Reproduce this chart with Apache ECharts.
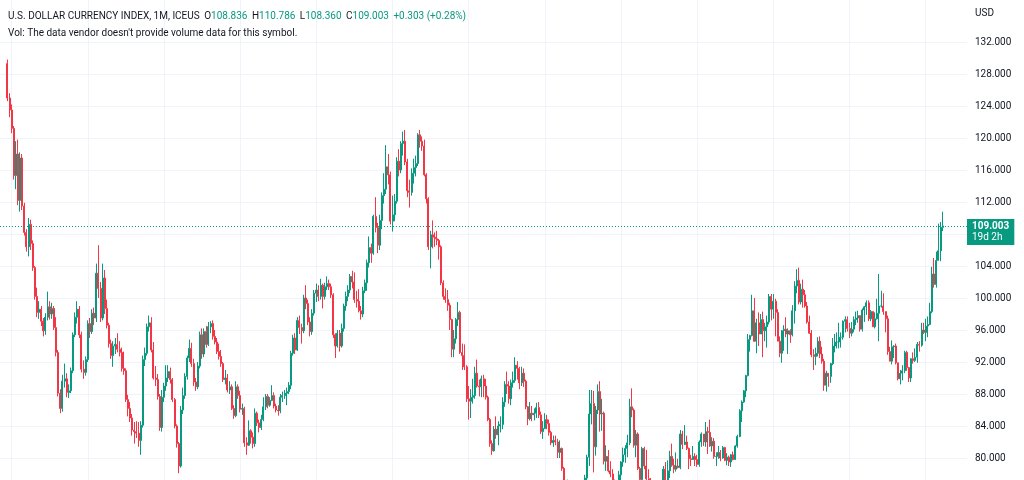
<!DOCTYPE html>
<html><head><meta charset="utf-8">
<script src="https://cdn.jsdelivr.net/npm/echarts@6/dist/echarts.min.js"></script>
<style>html,body{margin:0;padding:0;background:#fff}#c{width:1024px;height:480px}</style>
</head><body><div id="c"></div>
<script>
// ---- DATA: U.S. Dollar Currency Index, monthly, Nov 1985 .. Sep 2022 ----
const firstCategory = [1985, 8];      // first month on the time axis (Aug 1985)
const categoryCount = 457;            // months shown on the axis (to Aug 2023)
const firstCandle = '1985-11';
const firstOpen = 129.3;
const closes = [
  125.0, 123.5,
  121.2,115.3,118.0,112.2,117.5,111.5,108.2,106.4,109.2,106.8,103.8,100.2, // 1986
  98.2,98.6,97.1,95.9,97.6,98.9,98.0,98.7,96.3,93.2,88.1,86.2,           // 1987
  89.6,89.9,88.2,88.4,90.9,95.4,97.6,98.6,95.4,91.1,90.7,92.3,           // 1988
  96.8,95.8,98.1,97.5,103.1,101.2,97.5,102.5,98.7,96.6,94.3,92.8,        // 1989
  94.0,94.2,93.6,93.2,91.2,90.9,87.3,86.2,85.0,83.5,83.3,83.1,           // 1990
  82.2,84.1,92.3,93.1,96.4,96.9,93.5,90.0,89.8,87.7,83.8,87.6,           // 1991
  89.0,90.0,90.8,89.8,87.3,84.0,81.8,79.0,86.0,87.8,90.2,92.5,           // 1992
  93.7,91.8,89.5,88.9,91.5,95.4,93.0,95.8,94.2,96.4,96.8,95.2,           // 1993
  94.5,93.3,92.7,91.8,89.8,90.0,88.5,88.9,86.2,85.3,88.9,87.8,           // 1994
  86.1,86.2,81.9,81.6,83.4,82.6,81.8,85.6,84.4,83.8,84.8,86.4,           // 1995
  87.7,86.6,87.2,87.8,86.5,86.0,85.9,87.6,87.8,88.1,88.3,89.1,           // 1996
  93.1,95.0,93.5,97.2,96.3,95.9,100.0,99.3,97.0,95.8,98.1,100.6,         // 1997
  101.0,100.2,101.6,100.2,101.4,101.8,101.4,100.4,95.4,94.0,95.6,94.0,   // 1998
  96.2,99.0,100.2,101.0,102.7,102.0,99.8,99.6,98.4,98.0,100.9,101.9,     // 1999
  104.4,106.3,105.6,110.2,108.8,106.6,109.7,112.8,113.6,116.4,115.4,109.6, // 2000
  110.4,112.1,117.1,116.0,119.3,119.6,117.0,113.4,113.2,115.6,116.3,116.8, // 2001
  120.4,119.6,119.0,115.4,112.4,106.4,107.9,107.6,107.4,107.2,106.4,101.9, // 2002
  100.2,99.8,99.1,97.3,93.6,94.9,97.3,98.2,93.2,92.8,91.4,87.4,          // 2003
  87.1,87.6,87.8,90.6,89.0,88.9,89.9,89.0,87.6,84.8,81.8,80.9,           // 2004
  83.6,82.9,84.0,84.2,87.0,89.2,89.0,87.4,89.4,89.7,91.6,91.2,           // 2005
  89.4,90.6,89.6,86.4,84.9,85.6,85.4,85.6,86.3,85.4,83.3,83.7,           // 2006
  84.8,84.3,83.2,81.9,82.2,82.0,80.7,81.2,78.7,76.6,75.4,76.7,           // 2007
  75.1,73.6,71.8,73.5,72.6,72.5,73.1,77.5,80.1,85.5,86.8,81.4,           // 2008
  86.0,88.3,85.5,85.6,79.6,80.2,78.4,78.0,76.6,76.3,74.6,77.9,           // 2009
  79.5,80.4,81.2,81.9,86.4,86.0,81.6,83.0,78.7,77.3,81.2,79.0,           // 2010
  77.4,76.8,75.9,73.0,74.6,74.3,74.0,74.2,78.6,76.2,78.4,80.2,           // 2011
  79.1,78.6,79.0,78.8,83.0,81.7,82.0,81.2,79.9,79.8,80.2,79.8,           // 2012
  79.2,82.0,83.0,82.0,83.3,83.2,81.5,82.1,80.2,80.2,80.7,80.0,           // 2013
  81.3,79.7,80.1,79.5,80.4,79.8,81.5,82.7,85.9,87.0,88.4,90.3,           // 2014
  94.8,95.3,98.4,94.6,96.9,95.5,97.3,95.9,96.4,97.0,100.2,98.6,          // 2015
  99.6,98.2,94.6,93.1,95.9,96.1,95.5,95.9,95.4,98.4,101.5,102.2,         // 2016
  99.5,101.1,100.4,99.0,97.0,95.6,92.9,92.7,93.1,94.6,93.0,92.1,         // 2017
  89.1,90.6,90.2,91.8,94.0,94.5,94.5,95.1,95.1,97.1,97.3,96.2,           // 2018
  95.6,96.1,97.3,97.5,97.8,96.1,98.5,98.9,99.4,97.4,98.3,96.4,           // 2019
  97.4,98.1,99.0,99.0,98.3,97.4,93.3,92.1,93.9,94.0,91.9,89.9,           // 2020
  90.6,90.9,93.2,91.3,90.0,92.4,92.2,92.6,94.2,94.1,96.0,95.7,           // 2021
  96.5,96.7,98.3,103.0,101.7,104.7,105.9,108.836,109.003                 // 2022
];
const highs = [
  129.8, 125.6,
  124.2,121.5,119.6,119.8,118.2,118.0,111.9,108.6,110.0,109.8,107.2,104.0,
  101.3,99.6,99.0,97.5,98.1,100.8,99.6,99.4,99.0,97.6,93.5,88.6,
  90.4,91.8,90.6,89.2,91.3,95.7,98.2,99.6,99.0,95.8,92.2,92.7,
  97.2,97.5,98.6,98.8,104.3,106.6,102.0,104.3,103.5,99.8,96.9,94.8,
  94.6,95.0,95.6,94.6,93.8,93.3,91.2,87.9,87.0,85.5,84.5,84.6,
  84.5,84.6,92.8,93.8,96.8,97.8,97.6,94.5,91.5,90.5,88.0,88.5,
  89.4,91.6,91.6,91.3,90.0,87.5,84.2,82.0,86.5,88.8,90.6,92.8,
  94.8,94.4,92.4,90.0,92.0,95.8,96.2,96.2,96.5,97.0,97.1,97.2,
  96.0,95.0,94.3,93.5,92.0,91.0,90.5,89.6,89.2,86.6,89.6,89.2,
  88.4,86.8,86.4,82.6,84.7,83.6,83.2,86.2,85.8,84.8,85.4,87.6,
  88.0,88.0,87.6,89.1,88.2,86.8,86.6,88.0,88.3,88.5,88.8,89.5,
  93.4,95.4,95.6,97.6,97.8,96.8,100.4,101.6,99.8,97.6,98.6,101.0,
  101.8,101.6,102.4,101.8,101.9,102.7,102.3,101.8,100.6,95.6,96.0,96.0,
  96.8,99.3,100.8,101.6,103.0,103.4,103.2,100.9,101.1,99.0,101.4,102.3,
  104.8,107.7,106.8,110.4,112.6,109.4,110.4,113.2,115.6,119.1,118.0,115.8,
  112.8,113.0,117.6,118.6,119.6,120.8,121.0,117.4,114.8,116.2,117.4,117.8,
  120.6,121.0,120.2,119.8,115.6,112.6,108.4,109.7,108.2,108.4,107.4,106.6,
  102.2,101.2,101.0,99.4,97.4,96.0,97.5,99.5,98.4,94.3,94.2,91.6,
  89.0,88.6,89.9,91.4,92.3,89.8,90.3,90.4,89.9,87.8,85.0,82.2,
  84.0,85.2,84.6,85.2,87.6,89.6,90.8,89.6,89.8,90.8,92.6,92.1,
  91.4,91.4,91.2,89.8,86.5,87.0,86.5,86.2,86.9,87.0,85.8,84.6,
  85.6,85.4,84.8,83.4,82.8,82.8,82.4,82.2,81.3,78.9,77.2,77.3,
  77.0,76.5,74.1,73.8,74.0,73.8,73.5,77.9,80.4,88.5,88.5,88.4,
  86.5,89.2,89.6,87.4,85.8,81.6,81.0,79.6,78.6,77.3,76.4,78.4,
  79.6,81.3,81.6,82.9,87.4,88.7,86.2,83.5,83.2,78.9,81.4,81.4,
  81.0,78.6,77.5,76.1,76.4,76.3,75.4,75.0,79.0,79.5,79.7,80.9,
  81.8,79.9,80.7,79.9,83.5,83.4,84.1,82.8,81.3,80.4,81.5,80.6,
  80.4,82.2,83.2,83.0,84.5,83.9,84.8,82.6,82.5,80.7,81.5,81.0,
  81.5,81.4,80.6,80.3,80.5,80.8,81.6,82.9,86.1,87.2,88.5,90.4,
  95.5,95.4,100.4,100.0,97.4,98.2,98.0,98.3,96.9,97.8,100.5,100.5,
  100.5,99.9,98.6,95.2,96.0,96.6,97.6,96.2,96.1,99.1,102.1,103.6,
  103.8,101.8,102.3,101.0,99.5,97.8,96.0,93.6,93.8,95.1,95.2,93.9,
  92.4,90.9,90.6,91.9,95.0,95.5,95.7,96.9,95.7,97.2,97.7,97.7,
  96.9,97.0,97.7,98.3,98.4,97.8,98.7,99.0,99.7,99.7,98.5,98.3,
  98.2,99.9,103.0,100.9,100.6,98.0,97.8,93.9,94.7,94.1,94.3,91.8,
  91.0,91.6,93.4,93.4,91.4,92.5,93.2,93.7,94.5,94.6,96.9,96.9,
  97.4,97.7,99.4,103.9,105.0,105.8,109.3,109.5,110.786
];
const lows = [
  124.6, 122.6,
  120.6,114.8,113.6,111.6,110.8,111.0,107.8,105.8,105.2,106.0,103.4,99.8,
  97.6,97.4,96.5,95.2,95.4,97.2,97.3,97.4,96.0,92.7,87.7,85.6,
  85.8,88.8,87.6,87.5,88.1,90.6,95.1,96.8,95.0,90.7,89.9,90.3,
  92.0,95.0,95.5,96.6,97.0,100.0,97.0,97.2,98.0,96.2,93.8,92.4,
  91.4,93.0,93.2,92.7,90.8,90.4,87.0,85.2,84.5,82.8,81.8,82.5,
  81.4,80.4,83.8,91.5,92.8,95.8,93.2,89.8,89.0,87.3,83.4,83.3,
  87.0,88.4,89.5,89.3,87.0,83.7,81.3,78.1,78.8,85.5,87.4,89.8,
  92.0,91.4,89.0,88.4,88.6,91.2,92.4,92.6,93.8,94.0,95.6,94.8,
  94.2,93.0,92.3,91.4,89.5,89.2,88.2,88.0,86.0,84.9,85.1,87.4,
  85.7,85.4,81.4,80.4,81.5,81.8,81.2,81.4,84.0,83.2,83.5,84.6,
  86.0,86.2,86.4,87.1,86.2,85.7,85.3,85.6,87.0,87.4,86.6,88.0,
  88.6,92.8,93.0,93.4,95.5,94.3,95.6,98.6,96.6,95.2,95.4,97.8,
  99.5,99.6,99.8,98.7,99.8,101.0,101.0,100.0,95.0,92.5,93.8,93.3,
  93.8,95.8,98.4,99.6,100.6,101.2,99.4,98.8,98.2,97.3,97.6,100.6,
  100.9,103.8,104.4,105.4,108.2,105.6,106.0,108.6,111.8,113.0,114.2,109.2,
  108.3,109.6,111.8,115.2,115.6,117.8,116.6,112.6,111.3,112.8,114.3,115.2,
  116.5,118.8,118.4,115.2,111.8,106.0,103.7,106.2,106.4,106.6,104.8,101.6,
  99.8,99.4,98.4,96.0,92.6,92.6,94.3,96.5,93.0,91.0,91.0,87.0,
  84.8,85.0,86.8,87.4,88.8,87.7,87.6,87.6,87.3,84.6,81.4,80.4,
  80.8,82.4,81.6,83.2,83.6,86.4,88.0,86.8,86.6,88.8,89.4,89.8,
  88.6,89.0,88.9,86.1,84.1,84.7,84.6,84.7,85.0,85.0,83.0,82.4,
  83.6,83.6,82.8,81.6,81.4,81.6,80.0,80.0,78.4,76.2,74.5,75.2,
  74.8,73.4,70.7,71.3,71.9,71.8,71.3,72.6,76.2,79.0,84.2,78.2,
  80.3,85.5,83.3,83.4,79.2,78.4,78.2,77.6,76.0,74.9,74.2,74.2,
  76.6,78.9,79.4,80.1,81.6,85.1,81.3,80.1,78.5,75.6,76.2,78.6,
  76.6,76.2,75.3,72.9,72.7,73.5,73.4,73.5,73.8,75.3,75.6,77.5,
  78.9,78.1,78.3,78.7,78.6,81.1,81.6,81.0,78.6,79.0,79.8,79.0,
  78.9,78.9,81.4,81.5,81.4,80.5,81.4,80.8,79.9,79.0,79.9,79.6,
  79.9,79.6,79.1,79.0,78.9,79.7,79.8,81.3,82.6,84.5,86.9,87.6,
  90.2,93.3,95.2,94.5,93.1,94.0,95.5,92.6,94.6,93.8,96.7,97.2,
  97.4,95.2,94.6,92.6,91.9,93.4,95.1,93.0,94.4,95.2,96.8,100.6,
  99.2,99.2,98.8,98.8,96.8,95.5,92.6,91.0,91.6,92.7,92.5,91.8,
  88.4,88.3,88.9,89.4,91.6,93.2,93.7,93.7,93.8,94.8,95.7,95.8,
  95.0,95.2,95.7,96.6,96.9,95.8,95.8,97.0,97.9,97.1,97.1,96.4,
  96.2,97.3,94.6,98.8,97.9,95.7,92.9,92.1,91.7,92.5,91.7,89.7,
  89.2,89.7,90.6,90.9,89.5,89.5,91.8,92.0,91.9,93.3,93.9,95.5,
  94.6,95.1,96.6,98.1,101.3,101.3,104.7,104.6,108.36
];
const priceTicks = { min: 76, max: 132, step: 4 };
const headerTitle = 'U.S. DOLLAR CURRENCY INDEX, 1M, ICEUS';
const headerChange = '+0.303 (+0.28%)';
const volNote = "Vol: The data vendor doesn't provide volume data for this symbol.";
const countdown = '19d 2h';

// ---- build ----
const cats = [];
{ let y = firstCategory[0], m = firstCategory[1];
  for (let i = 0; i < categoryCount; i++) {
    cats.push(y + '-' + String(m).padStart(2, '0'));
    m++; if (m > 12) { m = 1; y++; }
  } }
const start = cats.indexOf(firstCandle);
const candles = cats.map(() => '-');
for (let i = 0; i < closes.length; i++) {
  const o = i === 0 ? firstOpen : closes[i - 1];
  const c = closes[i];
  candles[start + i] = [o, c, Math.min(lows[i], o, c), Math.max(highs[i], o, c)];
}
const last = candles[start + closes.length - 1];
const lastClose = last[1];
const f3 = v => v.toFixed(3);

const UP = '#089981', DOWN = '#f23645', TXT = '#131722', GRID = '#f0f3fa';
const FONT = 'Roboto, "Noto Sans", sans-serif';

const chart = echarts.init(document.getElementById('c'), null, { renderer: 'canvas' });
chart.setOption({
  animation: false,
  backgroundColor: '#ffffff',
  textStyle: { fontFamily: FONT },
  title: {
    left: 3, top: 2, itemGap: 3,
    text: '{n|' + headerTitle + '} {n|O}{g|' + f3(last[0]) + '} {n|H}{g|' + f3(last[3]) +
          '} {n|L}{g|' + f3(last[2]) + '} {n|C}{g|' + f3(last[1]) + '} {g|' + headerChange + '}',
    textStyle: { fontWeight: 'normal', rich: {
      n: { color: TXT, fontSize: 10, fontWeight: 'normal', fontFamily: FONT },
      g: { color: UP, fontSize: 10, fontWeight: 'normal', fontFamily: FONT }
    } },
    subtext: volNote,
    subtextStyle: { color: TXT, fontSize: 10, fontFamily: FONT }
  },
  grid: [
    { left: 0, top: 0, width: 967, height: 480, outerBoundsMode: 'none', containLabel: false },
    { left: 0, top: 42, width: 967, height: (priceTicks.max - priceTicks.min) * 8, outerBoundsMode: 'none', containLabel: false }
  ],
  xAxis: [
    { gridIndex: 0, type: 'category', data: cats, boundaryGap: true,
      axisLine: { show: false }, axisTick: { show: false, alignWithLabel: true }, axisLabel: { show: false },
      splitLine: { show: true, alignWithLabel: true,
        interval: (i, v) => v.endsWith('-01') && (parseInt(v) - 1986) % 3 === 0,
        lineStyle: { color: GRID, width: 1 } } },
    { gridIndex: 1, type: 'category', data: cats, boundaryGap: true,
      axisLine: { show: false }, axisTick: { show: false }, axisLabel: { show: false }, splitLine: { show: false } }
  ],
  yAxis: [
    { gridIndex: 0, type: 'value', show: false, splitLine: { show: false } },
    { gridIndex: 1, type: 'value', position: 'right',
      min: priceTicks.min, max: priceTicks.max, interval: priceTicks.step,
      name: 'USD', nameLocation: 'end', nameGap: 29,
      nameTextStyle: { color: TXT, fontSize: 10, align: 'left', verticalAlign: 'middle', padding: [0, 0, 0, 8] },
      axisLine: { show: false }, axisTick: { show: false },
      axisLabel: { color: TXT, fontSize: 10, margin: 8, formatter: v => f3(v), showMaxLabel: true },
      splitLine: { show: true, lineStyle: { color: GRID, width: 1 } } }
  ],
  series: [{
    type: 'candlestick', xAxisIndex: 1, yAxisIndex: 1,
    data: candles, barWidth: 1.5, clip: true,
    itemStyle: { color: UP, color0: DOWN, borderColor: UP, borderColor0: DOWN, borderWidth: 1 },
    markLine: {
      silent: true, symbol: ['none', 'none'], animation: false,
      data: [{ yAxis: lastClose }],
      lineStyle: { color: UP, type: [1, 2], width: 1 },
      label: {
        show: true, position: 'end', distance: 0, offset: [0, 6],
        formatter: '{b|' + f3(lastClose) + '}\n' + countdown,
        rich: { b: { fontWeight: 'bold', color: '#ffffff', fontSize: 10, lineHeight: 11, fontFamily: FONT } },
        backgroundColor: UP, color: '#ffffff', fontSize: 10, lineHeight: 11,
        padding: [2, 5, 2, 5], align: 'left', fontFamily: FONT
      }
    }
  }]
});
</script>
</body></html>
